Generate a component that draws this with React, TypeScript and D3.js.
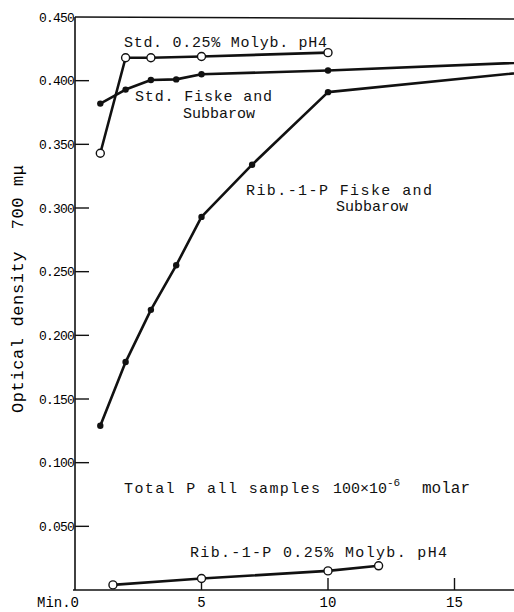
import React from "react";
import * as d3 from "d3";

// minutes / optical density
const stdMolybMin = [1, 2, 3, 5, 10];
const stdMolybOD = [0.343, 0.418, 0.418, 0.419, 0.422];
const stdFiskeMin = [1, 2, 3, 4, 5, 10, 20];
const stdFiskeOD = [0.382, 0.393, 0.4005, 0.401, 0.405, 0.408, 0.416];
const ribFiskeMin = [1, 2, 3, 4, 5, 7, 10, 20];
const ribFiskeOD = [0.129, 0.179, 0.22, 0.255, 0.293, 0.334, 0.391, 0.411];
const ribMolybMin = [1.5, 5, 10, 12];
const ribMolybOD = [0.004, 0.009, 0.015, 0.019];

const yTicks = [0.05, 0.1, 0.15, 0.2, 0.25, 0.3, 0.35, 0.4, 0.45];
const yTickLabels = ["0.050", "0.100", "0.150", "0.200", "0.250", "0.300", "0.350", "0.400", "0.450"];
const xTicks = [5, 10, 15];

const W = 514;
const H = 612;
const margin = { top: 17, right: 0, bottom: 22, left: 75 };
const font = "'Liberation Mono', 'DejaVu Sans Mono', monospace";

const x = d3.scaleLinear().domain([0, 5]).range([margin.left, margin.left + 126.5]);
const y = d3.scaleLinear().domain([0, 0.45]).range([H - margin.bottom, margin.top]);

const line = d3
  .line<[number, number]>()
  .x((d) => x(d[0]))
  .y((d) => y(d[1]));

const zip = (a: number[], b: number[]) => a.map((v, i) => [v, b[i]] as [number, number]);

const series = [
  { pts: zip(stdMolybMin, stdMolybOD), open: true },
  { pts: zip(stdFiskeMin, stdFiskeOD), open: false },
  { pts: zip(ribFiskeMin, ribFiskeOD), open: false },
  { pts: zip(ribMolybMin, ribMolybOD), open: true },
];

const App = () => {
  const x0 = x(0);
  const y0 = y(0);
  return (
    <svg
      width={W}
      height={H}
      style={{ position: "absolute", left: 0, top: 0, background: "#fff" }}
      fontFamily={font}
    >
      <defs>
        <clipPath id="plot">
          <rect x={x0} y={y(0.45) - 6} width={W - x0} height={y0 - y(0.45) + 6} />
        </clipPath>
      </defs>

      {/* frame */}
      <line x1={x0} x2={x0} y1={y(0.45)} y2={y0} stroke="#111" strokeWidth={1.6} />
      <line x1={x0 - 2} x2={W} y1={y0} y2={y0} stroke="#111" strokeWidth={1.6} />
      <line x1={x0} x2={W} y1={y(0.45)} y2={y(0.45) + 2} stroke="#111" strokeWidth={1.4} />

      {/* y ticks */}
      {yTicks.map((t, i) => (
        <g key={t}>
          {t < 0.45 && <line x1={x0} x2={x0 + 14} y1={y(t)} y2={y(t)} stroke="#111" strokeWidth={1.4} />}
          <text x={x0 - 1} y={y(t)} dy="0.35em" textAnchor="end" fontSize={13} letterSpacing={-0.8}>
            {yTickLabels[i]}
          </text>
        </g>
      ))}

      {/* x ticks */}
      {xTicks.map((t) => (
        <g key={t}>
          <line x1={x(t)} x2={x(t)} y1={y0} y2={y0 - 12} stroke="#111" strokeWidth={1.4} />
          <text x={x(t)} y={y0 + 17} textAnchor="middle" fontSize={14}>
            {t}
          </text>
        </g>
      ))}
      <text x={x0 + 4} y={y0 + 17} textAnchor="end" fontSize={14}>
        Min.0
      </text>

      {/* axis title */}
      <text
        transform={`translate(23,289) rotate(-90)`}
        textAnchor="middle"
        fontSize={17}
        textLength={248}
        lengthAdjust="spacing"
        xmlSpace="preserve"
      >
        Optical density  700 mμ
      </text>

      {/* series */}
      <g clipPath="url(#plot)">
        {series.map((s, i) => (
          <path key={i} d={line(s.pts) || ""} fill="none" stroke="#111" strokeWidth={2.6} strokeLinejoin="round" />
        ))}
        {series.map((s, i) =>
          s.pts.map((p, j) =>
            s.open ? (
              <circle key={`${i}-${j}`} cx={x(p[0])} cy={y(p[1])} r={4} fill="#fff" stroke="#111" strokeWidth={1.4} />
            ) : (
              <circle key={`${i}-${j}`} cx={x(p[0])} cy={y(p[1])} r={3.2} fill="#111" />
            )
          )
        )}
      </g>

      {/* annotations */}
      <g fontSize={15} fill="#111">
        <text x={124} y={47} textLength={203} lengthAdjust="spacing">Std. 0.25% Molyb. pH4</text>
        <text x={135} y={101}>
          <tspan textLength={137} lengthAdjust="spacing">Std. Fiske and</tspan>
          <tspan x={183} dy={17}>Subbarow</tspan>
        </text>
        <text x={246} y={195}>
          <tspan textLength={186} lengthAdjust="spacing">Rib.-1-P Fiske and</tspan>
          <tspan x={336} dy={16}>Subbarow</tspan>
        </text>
        <text x={124} y={493}>
          <tspan textLength={196} lengthAdjust="spacing">Total P all samples</tspan>
          <tspan x={333}>100×10</tspan>
          <tspan fontSize={11} dy={-7}>-6</tspan>
          <tspan x={422} dy={7} fontSize={16}>molar</tspan>
        </text>
        <text x={190} y={557} textLength={257} lengthAdjust="spacing">Rib.-1-P 0.25% Molyb. pH4</text>
      </g>
    </svg>
  );
};

export default App;
